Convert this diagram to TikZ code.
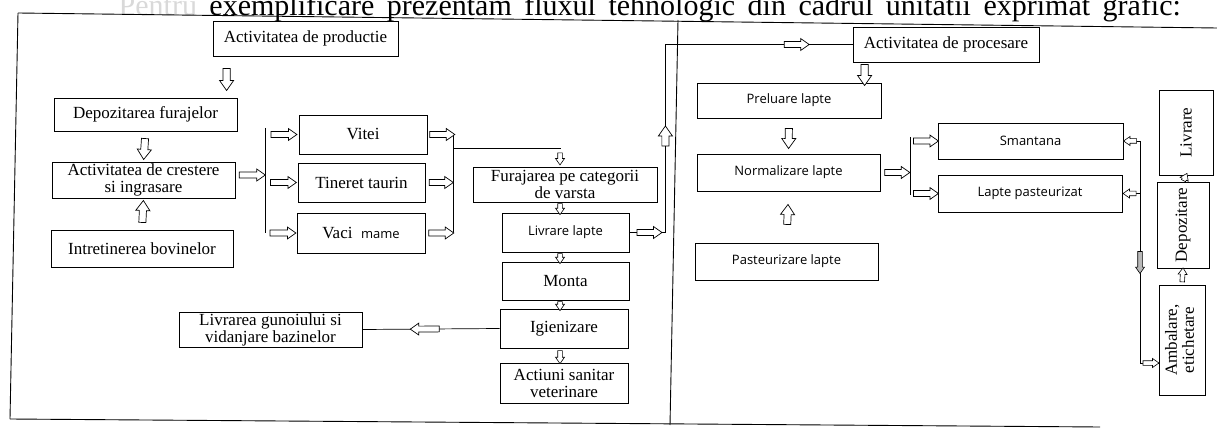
\documentclass[tikz,border=0pt]{standalone}
\usepackage{fontspec}
\setmainfont{Liberation Serif}
\newfontfamily\sansf{Open Sans}
\usetikzlibrary{shapes.arrows,calc}
\tikzset{
  box/.style={draw, line width=0.8pt, rectangle, inner sep=0pt, align=center, font=\fontsize{17}{17}\selectfont},
  sbox/.style={box, font=\sansf\fontsize{13}{15}\selectfont},
  conn/.style={draw, line width=0.7pt},
  harr/.style={single arrow, draw, fill=white, line width=0.7pt, inner xsep=0pt, inner ysep=3.2pt,
     single arrow tip angle=70, single arrow head extend=3.5pt, minimum height=#1,
     sloped, allow upside down, anchor=center},
  marr/.style={harr=#1, inner ysep=2.6pt, single arrow head extend=3pt},
  sarr/.style={harr=#1, inner ysep=2pt, single arrow head extend=2.2pt, line width=0.6pt},
}
\begin{document}
\begin{tikzpicture}[x=1pt,y=-1pt]
\useasboundingbox (0,0) rectangle (1217,430);
\clip (0,0) rectangle (1217,430);
% cropped caption line (justified in the source, hence the wide spaces)
\node[anchor=base east, inner sep=0pt, font=\fontsize{30}{32}\selectfont] (title) at (1181,16)
  {\spaceskip=12.5pt\relax {\color{gray!30}Pentru} exemplificare prezentam fluxul tehnologic din cadrul unitatii exprimat grafic:};
% frame
\draw[line width=0.9pt] (18,13) -- (1217,28);
\draw[line width=0.9pt] (18,13) -- (10,419);
\draw[line width=0.9pt] (10,419) -- (1100,427);
\draw[line width=0.9pt] (678,20) -- (670,425);

% ---------- left part ----------
\node[box, minimum width=185, minimum height=35] (prod) at (305.5,38.5) {Activitatea de productie};
\node[box, minimum width=183, minimum height=33] (dep) at (145.5,114.5) {Depozitarea furajelor};
\node[box, minimum width=183, minimum height=36] (cres) at (143.5,180) {Activitatea de crestere\\si ingrasare};
\node[box, minimum width=182, minimum height=37] (intr) at (142,248.5) {Intretinerea bovinelor};
\node[box, minimum width=128, minimum height=39] (vitei) at (363,134.5) {Vitei};
\node[box, minimum width=127, minimum height=39] (tin) at (361.5,182.5) {Tineret taurin};
\node[box, minimum width=128, minimum height=40] (vaci) at (361,233) {Vaci\ \ {\sansf\fontsize{13}{15}\selectfont mame}};
\node[box, minimum width=184, minimum height=35] (fur) at (565,184.5) {Furajarea pe categorii\\de varsta};
\node[sbox, minimum width=127, minimum height=39] (liv) at (565.5,232.5) {Livrare lapte};
\node[box, minimum width=127, minimum height=38] (monta) at (565.5,281) {Monta};
\node[box, minimum width=128, minimum height=39] (igien) at (564,328.5) {Igienizare};
\node[box, minimum width=128, minimum height=40] (act) at (564,383) {Actiuni sanitar\\veterinare};
\node[box, minimum width=183, minimum height=35] (gun) at (270.5,329.5) {Livrarea gunoiului si\\vidanjare bazinelor};

% ---------- right part ----------
\node[box, minimum width=186, minimum height=35] (proc) at (946,44.5) {Activitatea de procesare};
\node[sbox, minimum width=184, minimum height=35] (prel) at (789,100.5) {Preluare lapte};
\node[sbox, minimum width=183, minimum height=37] (norm) at (788.5,172.5) {Normalizare lapte};
\node[sbox, minimum width=183, minimum height=37] (past) at (786.5,261.5) {Pasteurizare lapte};
\node[sbox, minimum width=185, minimum height=36] (sman) at (1030.5,141) {Smantana};
\node[sbox, minimum width=184, minimum height=37] (lpast) at (1030,193.5) {Lapte pasteurizat};
\node[box, minimum width=54, minimum height=85] (livr) at (1186,132.5) {\rotatebox{90}{Livrare}};
\node[box, minimum width=52, minimum height=86] (depo) at (1183,225) {\rotatebox{90}{Depozitare}};
\node[box, minimum width=46, minimum height=110] (amb) at (1182,340)
  {\rotatebox{90}{\begin{tabular}{@{}c@{}}Ambalare,\\etichetare\end{tabular}}};

% ---------- helper coordinates ----------
\coordinate (b1t) at (265,128);  \coordinate (b1b) at (265,233);
\coordinate (b2t) at (453,135);  \coordinate (b2b) at (453,233);
\coordinate (b2m) at (453,148);
\coordinate (fj)  at ($(fur.north)+(-5,-19)$);
\coordinate (up)  at ($(liv.east)+(36,0)$);
\coordinate (b3t) at (910,137);  \coordinate (b3b) at (910,195);
\coordinate (v1t) at (1140,141); \coordinate (v1b) at (1140,363);
\coordinate (a1)  at ($(prod.south west)+(14,0)$);
\coordinate (a2)  at ($(proc.south west)+(12,0)$);

% ---------- lines ----------
\draw[conn] (b1t) -- (b1b);
\draw[conn] (b2t) -- (b2b);
\draw[conn] (b2m) -- (b2m -| fj) -- (fj);
\draw[conn] (igien.west) -- (gun.east);
\draw[conn] (liv.east) -- (up) |- (proc.west);
\draw[conn] (b3t) -- (b3b);
\draw[conn] (sman.east) -- (v1t) -- (v1b) -- (v1b -| amb.west);
\draw[conn] (lpast.east) -- (lpast.east -| v1t);

% ---------- block arrows, left ----------
\path (a1) -- node[harr=22]{} (a1 |- dep.north);
\path (dep.south) -- node[harr=21]{} (cres.north);
\path (intr.north) -- node[harr=22]{} (cres.south);
\path ($(cres.east)+(0,-5)$) -- node[marr=26]{} ($(cres.east -| b1t)+(0,-5)$);
\path (vitei.west -| b1t) -- node[marr=26]{} (vitei.west);
\path (tin.west -| b1t) -- node[marr=26]{} (tin.west);
\path (vaci.west -| b1t) -- node[marr=26]{} (vaci.west);
\path (vitei.east) -- node[marr=25]{} (vitei.east -| b2t);
\path (tin.east) -- node[marr=24]{} (tin.east -| b2t);
\path (vaci.east) -- node[marr=25]{} (vaci.east -| b2t);
\path (b2m -| fj) -- node[sarr=12]{} (fur.north -| fj);
\path (fur.south -| fj) -- node[sarr=11]{} (liv.north -| fj);
\path (liv.south -| fj) -- node[sarr=10]{} (monta.north -| fj);
\path (monta.south -| fj) -- node[sarr=9]{} (igien.north -| fj);
\path (igien.south -| fj) -- node[sarr=13]{} (act.north -| fj);
\path (igien.west) -- node[marr=29, pos=0.53]{} (gun.east);
\path (liv.east) -- node[marr=25]{} (up);
\path (up) -- node[harr=20]{} (up |- proc.west);
\path (up |- proc.west) -- node[marr=25, pos=0.69]{} (proc.west);

% ---------- block arrows, right ----------
\path (a2) -- node[harr=21]{} (a2 |- prel.north);
\path (prel.south) -- node[harr=20]{} (norm.north);
\path (past.north) -- node[harr=20]{} (norm.south);
\path (norm.east) -- node[marr=25]{} (norm.east -| b3t);
\path (sman.west -| b3t) -- node[marr=25]{} (sman.west);
\path (lpast.west -| b3t) -- node[marr=25]{} (lpast.west);
\path (v1t) -- node[sarr=13]{} (sman.east);
\path (lpast.east -| v1t) -- node[sarr=13]{} (lpast.east);
\path (v1t) -- node[sarr=22, pos=0.54, fill=gray!55]{} (v1b);
\path (v1b) -- node[sarr=16]{} (v1b -| amb.west);
\path (amb.north) -- node[sarr=14]{} (depo.south);
\path (depo.north) -- node[sarr=8]{} (livr.south);
\end{tikzpicture}
\end{document}
